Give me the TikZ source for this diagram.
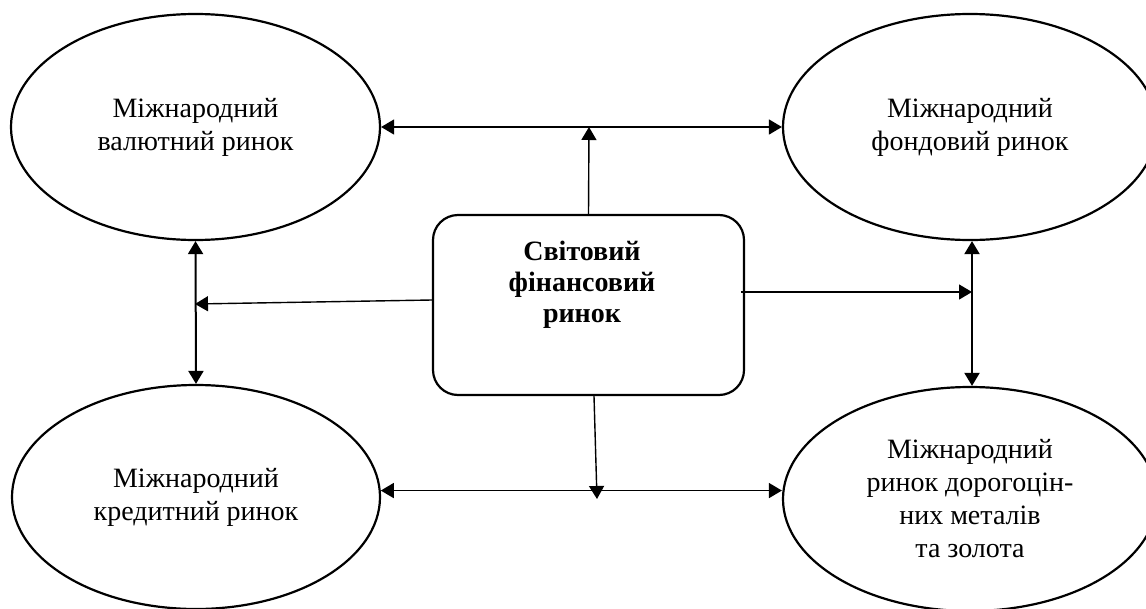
\documentclass[tikz,border=0pt]{standalone}
\usepackage{fontspec}
\setmainfont{Liberation Serif}
\usetikzlibrary{shapes.geometric,arrows.meta}
\begin{document}
\begin{tikzpicture}[x=1pt,y=-1pt,
  oval/.style={draw,line width=2.2pt,ellipse,inner sep=0pt,align=center,
    font=\fontsize{28}{33}\selectfont},
  hub/.style={draw,line width=2.2pt,rounded corners=25pt,inner sep=0pt},
  hubtext/.style={align=center,font=\fontsize{28}{31}\selectfont\bfseries},
  arr/.style={line width=1.4pt,-{Triangle[length=13pt,width=15pt]}},
  darr/.style={line width=1.5pt,{Triangle[length=13pt,width=15pt]}-{Triangle[length=13pt,width=15pt]}},
  varr/.style={line width=2pt,{Triangle[length=13pt,width=15pt]}-{Triangle[length=13pt,width=15pt]}}]
\useasboundingbox (0,0) rectangle (1146,608);

\node[oval,minimum width=369pt,minimum height=226pt] (tl) at (195.5,127) {Міжнародний\\валютний ринок};
\node[oval,minimum width=374pt,minimum height=226pt] (tr) at (970,127) {Міжнародний\\фондовий ринок};
\node[oval,minimum width=368pt,minimum height=224pt] (bl) at (196,497) {Міжнародний\\кредитний ринок};
\node[oval,minimum width=374pt,minimum height=224pt] (br) at (970,499) {Міжнародний\\ринок дорогоцін-\\них металів\\та золота};

\node[hub,minimum width=311pt,minimum height=180pt] (c) at (588.5,305) {};
\node[hubtext] (ct) at (582,285) {Світовий\\фінансовий\\ринок};

\coordinate (thit) at (589,127);
\coordinate (lhit) at (195,304);
\coordinate (rhit) at (972,292);
\coordinate (bhit) at (597,499);

\draw[darr] (tl.0.7) -- (tr.west |- tl.0.7);
\draw[darr] (bl.2.8) -- (br.west |- bl.2.8);
\draw[varr] (tl.south) -- (bl.north);
\draw[varr] ([xshift=2pt]tr.south) -- ([xshift=2pt]br.north);

\draw[arr] (c.north) -- (thit);
\draw[arr] ([yshift=5pt]c.west) -- (lhit);
\draw[arr] ([yshift=13pt,xshift=-4pt]c.east) -- (rhit);
\draw[arr] ([xshift=5.5pt]c.south) -- (bhit);
\end{tikzpicture}
\end{document}
